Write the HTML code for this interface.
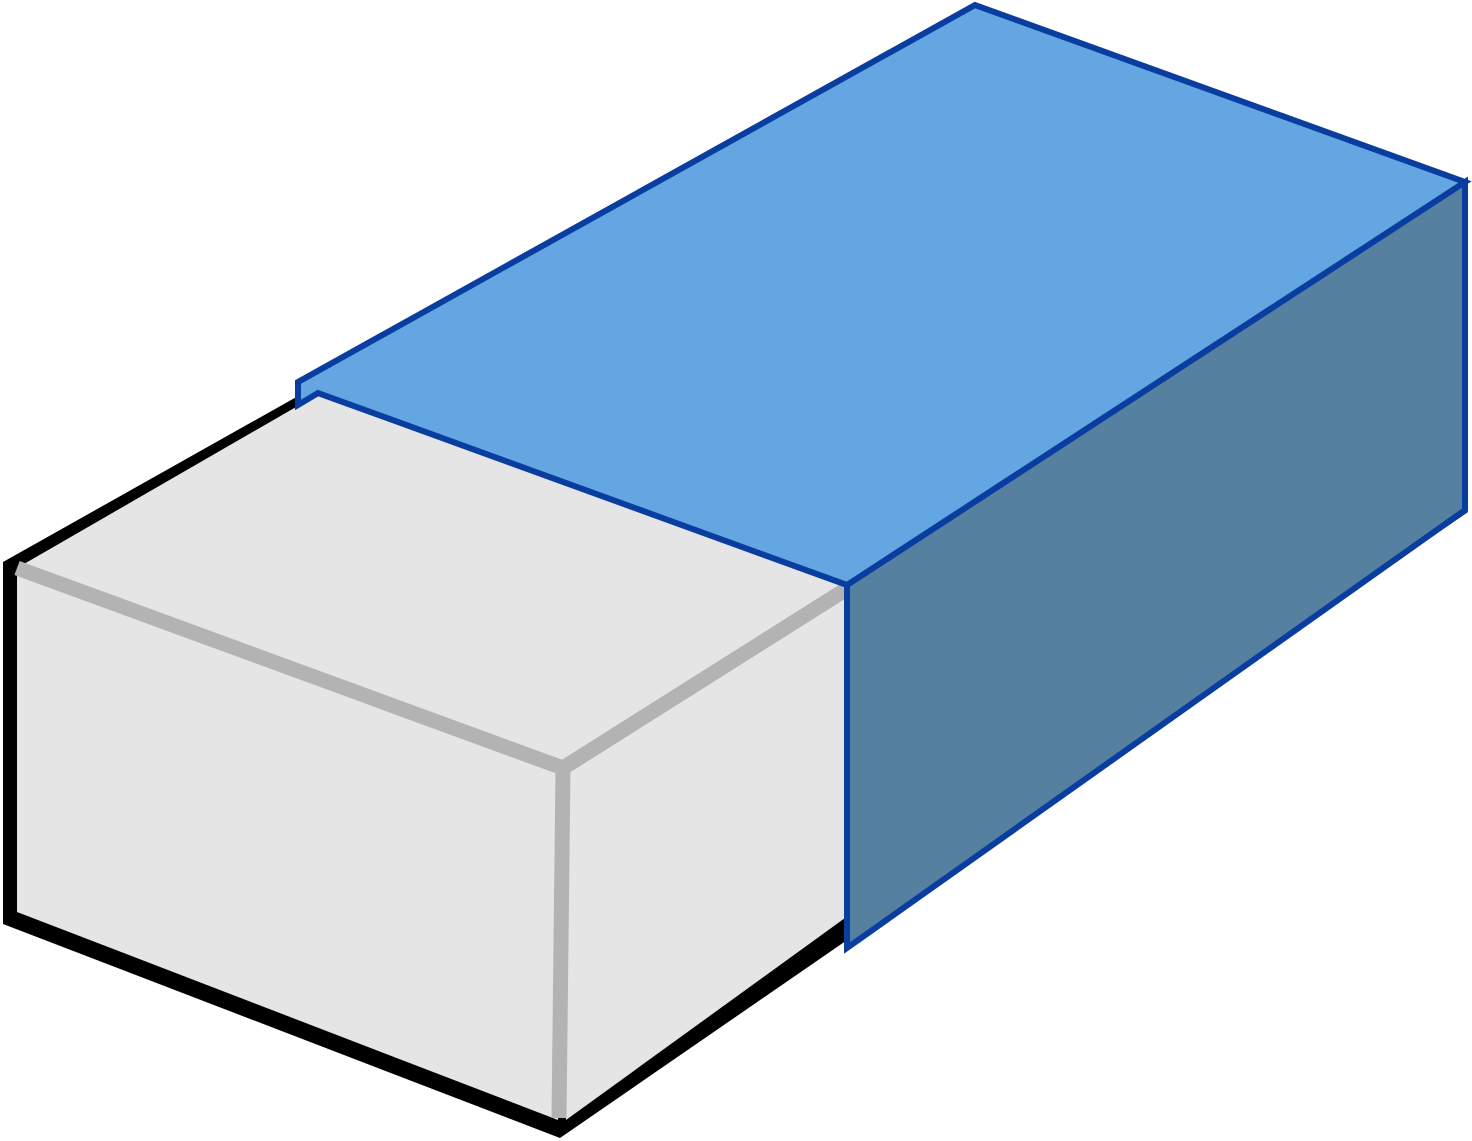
<!DOCTYPE html>
<html><head><meta charset="utf-8"><style>
html,body{margin:0;padding:0;background:#fff;width:1472px;height:1141px;overflow:hidden}
svg{display:block}
</style></head><body>
<svg width="1472" height="1141" viewBox="0 0 1472 1141">
  <polygon points="3,562 300,395 1468,512 560,1138 3,924" fill="#000"/>
  <polygon points="17,568 322,392 852,580 562,768" fill="#e5e5e5"/>
  <polygon points="17,568 562,768 558,1120 17,912" fill="#e5e5e5"/>
  <polygon points="562,768 845,585 845,918 566,1120" fill="#e5e5e5"/>
  <polyline points="17,568 563,768 845,590" fill="none" stroke="#b3b3b3" stroke-width="15"/>
  <line x1="563" y1="768" x2="559" y2="1118" stroke="#b3b3b3" stroke-width="15"/>
  <polygon points="847,585 1465,182 1465,510 847,948" fill="#5580a0" stroke="#0a3da0" stroke-width="6" stroke-linejoin="miter"/>
  <polygon points="298,382 975,5 1465,182 847,585 318,393 298,405" fill="#64a6e2" stroke="#0a3da0" stroke-width="6" stroke-linejoin="miter"/>
</svg>
</body></html>
